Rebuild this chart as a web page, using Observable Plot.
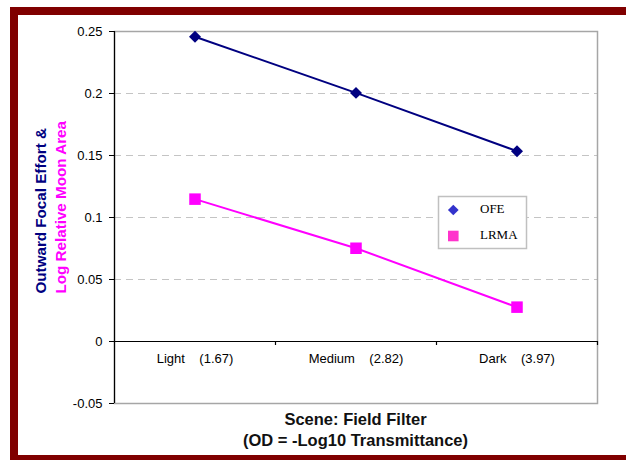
<!DOCTYPE html>
<html><head><meta charset="utf-8">
<script src="https://cdn.jsdelivr.net/npm/d3@7"></script>
<script src="https://cdn.jsdelivr.net/npm/@observablehq/plot@0.6"></script>
<style>html,body{margin:0;padding:0;background:#fff;overflow:hidden}</style>
</head><body><div id="chart"></div>
<script>
const categories = ["Light", "Medium", "Dark"];
const odValues = ["1.67", "2.82", "3.97"];
const ofe = [0.2458, 0.2005, 0.1535];
const lrma = [0.1148, 0.0752, 0.0277];
const yTicks = [-0.05, 0, 0.05, 0.1, 0.15, 0.2, 0.25];
const seriesNames = ["OFE", "LRMA"];
const xTitle = ["Scene: Field Filter", "(OD = -Log10 Transmittance)"];
const yTitle = ["Outward Focal Effort &", "Log Relative Moon Area"];

const NB = "\u00a0";
const rows = categories.map((c, i) => ({
  pos: i + 0.5, cat: c, ofe: ofe[i], lrma: lrma[i],
  label: c + NB.repeat(4) + "(" + odValues[i] + ")"
}));
const boundaries = d3.range(1, categories.length + 1);
const fmt = d => d === 0 ? "0" : String(+d.toFixed(2));

const W = 626, H = 460;
const ml = 114, mr = 29, mt = 31, mb = 57;

const svg = Plot.plot({
  width: W, height: H,
  marginLeft: ml, marginRight: mr, marginTop: mt, marginBottom: mb,
  style: {fontFamily: "'Liberation Sans', Arial, sans-serif", fontSize: "13px", color: "black", background: "white"},
  x: {type: "linear", domain: [0, categories.length], axis: null},
  y: {domain: [yTicks[0], yTicks[yTicks.length - 1]], axis: null},
  marks: [
    Plot.gridY(yTicks, {stroke: "#c4c4c4", strokeOpacity: 1, strokeDasharray: "7,5"}),
    Plot.frame({stroke: "#a6a6a6", strokeWidth: 1.5}),
    Plot.ruleY([0], {stroke: "black", strokeWidth: 1.2}),
    Plot.ruleX([0], {stroke: "black", strokeWidth: 1.2}),
    Plot.ruleX(boundaries, {y1: 0, y2: 0, insetBottom: -4, stroke: "black", strokeWidth: 1.2}),
    Plot.axisY(yTicks, {tickSize: 5, tickPadding: 7, tickFormat: fmt, fontSize: 13, label: null}),
    Plot.text(rows, {x: "pos", y: 0, text: "label", dy: 17, fontSize: 13}),
    Plot.line(rows, {x: "pos", y: "ofe", stroke: "#000080", strokeWidth: 2}),
    Plot.dot(rows, {x: "pos", y: "ofe", symbol: "diamond2", r: 5.4, fill: "#000080", stroke: "none"}),
    Plot.line(rows, {x: "pos", y: "lrma", stroke: "#ff00ff", strokeWidth: 2}),
    Plot.dot(rows, {x: "pos", y: "lrma", symbol: "square", r: 6.5, fill: "#ff00ff", stroke: "none"})
  ]
});

const s = d3.select(svg);
// outer border
s.append("rect").attr("x", 14).attr("y", 11).attr("width", 700).attr("height", 448)
  .attr("fill", "none").attr("stroke", "#800000").attr("stroke-width", 8);

// y titles
const yCols = [{t: yTitle[0], x: 46, c: "#000080"}, {t: yTitle[1], x: 66, c: "#ff00ff"}];
yCols.forEach(d => {
  s.append("text").attr("transform", `translate(${d.x},293.5) rotate(-90)`)
    .attr("text-anchor", "start").attr("font-weight", "bold").attr("font-size", 15.2)
    .attr("fill", d.c).text(d.t);
});

// x titles
const cx = ml + (W - ml - mr) / 2;
[425, 446].forEach((y, i) => {
  s.append("text").attr("x", cx).attr("y", y).attr("text-anchor", "middle")
    .attr("font-weight", "bold").attr("font-size", 16.5).attr("fill", "#111").text(xTitle[i]);
});

// legend
const lg = s.append("g");
lg.append("rect").attr("x", 438.5).attr("y", 196.5).attr("width", 88).attr("height", 52)
  .attr("fill", "white").attr("stroke", "#c0c0c0").attr("stroke-width", 1.5);
const legSym = [
  {name: seriesNames[0], sym: d3.symbolDiamond2, size: 73, fill: "#3333cc", y: 210, ty: 213},
  {name: seriesNames[1], sym: d3.symbolSquare, size: 112, fill: "#ff33cc", y: 236, ty: 238.5}
];
legSym.forEach(d => {
  lg.append("path").attr("d", d3.symbol(d.sym, d.size)()).attr("transform", `translate(453.3,${d.y})`).attr("fill", d.fill);
  lg.append("text").attr("x", 480).attr("y", d.ty).attr("text-anchor", "start")
    .attr("font-family", "'Liberation Serif', 'Times New Roman', serif")
    .attr("font-size", 13).attr("fill", "black").text(d.name);
});

document.getElementById("chart").appendChild(svg);
</script>
</body></html>
